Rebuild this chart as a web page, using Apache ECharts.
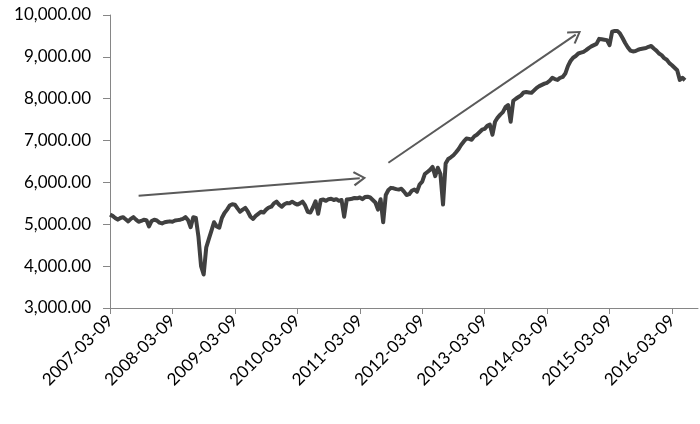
<!DOCTYPE html>
<html>
<head>
<meta charset="utf-8">
<script src="https://cdn.jsdelivr.net/npm/echarts@6/dist/echarts.min.js"></script>
<style>
  html, body { margin: 0; padding: 0; background: #fff; }
  #main { width: 700px; height: 424px; }
</style>
</head>
<body>
<div id="main"></div>
<script>
// semi-monthly points (9th and 24th), first one 2007-03-09
const startYear = 2007;
const startMonth = 3;
const categoryCount = 227;

const indexValues = [
  5230, 5200, 5150, 5110, 5150, 5170, 5120, 5070, 5130, 5170,
  5110, 5060, 5080, 5110, 5100, 4950, 5080, 5110, 5090, 5040,
  5020, 5050, 5060, 5070, 5060, 5090, 5100, 5110, 5130, 5170,
  5100, 4930, 5170, 5150,
  4700, 4000, 3800, 4450, 4650, 4850, 5050, 4950, 4920, 5150,
  5270, 5350, 5450, 5480, 5470, 5380, 5300, 5350, 5390, 5300,
  5180, 5130, 5200, 5250, 5300, 5280, 5350, 5400, 5420, 5500,
  5540, 5470, 5420, 5480, 5510, 5500, 5540, 5500, 5470, 5500,
  5540, 5450, 5300, 5280, 5400, 5550, 5250, 5580, 5590, 5560,
  5600, 5610, 5580, 5600, 5560, 5580, 5180, 5590, 5600, 5610,
  5630, 5620, 5640, 5600, 5650, 5660, 5640, 5580, 5520, 5350,
  5600, 5050, 5700, 5820, 5870, 5860, 5840, 5830, 5850, 5780,
  5700, 5720, 5800, 5830, 5780, 5950, 6020, 6200, 6250, 6300,
  6370, 6150, 6350, 6200, 5470, 6450, 6560, 6600, 6650, 6720,
  6800, 6900, 6980, 7050, 7040, 7020, 7100, 7140, 7200, 7260,
  7280, 7350, 7380, 7140, 7450, 7550, 7620, 7680, 7800, 7850,
  7450, 7950, 8000, 8040, 8080, 8150, 8160, 8150, 8140, 8200,
  8260, 8300, 8330, 8360, 8380, 8430, 8500, 8470, 8450, 8500,
  8520, 8600, 8780, 8900, 8980, 9020, 9080, 9100, 9120, 9160,
  9210, 9250, 9280, 9310, 9430, 9420, 9410, 9400, 9280, 9600,
  9620, 9620, 9560, 9450, 9330, 9230, 9150, 9130, 9140, 9170,
  9190, 9200, 9210, 9240, 9260, 9200, 9150, 9080, 9040, 8970,
  8930, 8850, 8800, 8740, 8680, 8450, 8500, 8440
];

// trend arrows: [startIndex, startValue, endIndex, endValue]
const arrowFlat = [10.8, 5680, 96.3, 6100];
const arrowRise = [107.2, 6470, 178.6, 9530];

const yTicks = [3000, 4000, 5000, 6000, 7000, 8000, 9000, 10000];

function pad(n) { return n < 10 ? "0" + n : "" + n; }

var dates = [];
for (var i = 0; i < categoryCount; i++) {
  var m = startMonth - 1 + Math.floor(i / 2);
  var y = startYear + Math.floor(m / 12);
  var day = i % 2 === 0 ? "09" : "24";
  dates.push(y + "-" + pad((m % 12) + 1) + "-" + day);
}

function fmt(v) {
  return v.toLocaleString("en-US", { minimumFractionDigits: 2, maximumFractionDigits: 2 });
}

const chevron = "path://M10,0 L20,12.6 L17.8,14 L10,4 L2.2,14 L0,12.6 Z";
const axisGray = "#868686";
const font = "Lato";

var myChart = echarts.init(document.getElementById("main"));
myChart.setOption({
  animation: false,
  grid: { left: 110, right: 2, top: 15, bottom: 116 },
  xAxis: {
    type: "category",
    data: dates,
    boundaryGap: false,
    axisLine: { lineStyle: { color: axisGray, width: 1 } },
    axisTick: {
      interval: 23,
      length: 6,
      lineStyle: { color: axisGray }
    },
    axisLabel: {
      interval: 23,
      rotate: 45,
      margin: 10,
      color: "#000",
      fontFamily: font,
      fontSize: 17
    },
    splitLine: { show: false }
  },
  yAxis: {
    type: "value",
    min: yTicks[0],
    max: yTicks[yTicks.length - 1],
    interval: 1000,
    axisLine: { show: true, lineStyle: { color: axisGray, width: 1 } },
    axisTick: { show: true, length: 7, lineStyle: { color: axisGray } },
    axisLabel: {
      margin: 19,
      color: "#000",
      fontFamily: font,
      fontSize: 17,
      formatter: function (v) { return fmt(v); }
    },
    splitLine: { show: false }
  },
  series: [
    {
      type: "line",
      data: indexValues,
      showSymbol: false,
      symbol: "none",
      lineStyle: { color: "#404040", width: 4, join: "round" },
      markLine: {
        silent: true,
        symbol: ["none", chevron],
        symbolSize: [15, 13],
        label: { show: false },
        lineStyle: { color: "#5a5a5a", width: 2, type: "solid" },
        data: [
          [{ coord: [arrowFlat[0], arrowFlat[1]] }, { coord: [arrowFlat[2], arrowFlat[3]] }],
          [{ coord: [arrowRise[0], arrowRise[1]] }, { coord: [arrowRise[2], arrowRise[3]] }]
        ]
      }
    }
  ]
});
</script>
</body>
</html>
